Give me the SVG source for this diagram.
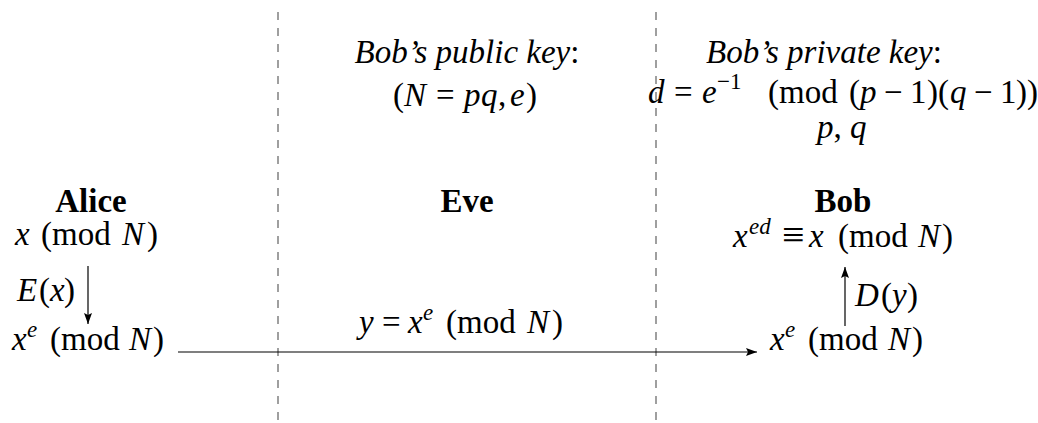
<svg xmlns="http://www.w3.org/2000/svg" width="1038" height="423" viewBox="0 0 1038 423">
<style>
text{font-family:"Liberation Serif","Times New Roman",serif;font-size:33px;fill:#000}
.i{font-style:italic}
.b{font-weight:bold}
.s{font-size:23px}
.eq{font-size:40px}
.div{stroke:#808080;stroke-width:1.5;stroke-dasharray:8 8;fill:none}
.arr{stroke:#000;stroke-width:1.2;fill:none}
</style>
<defs>
<marker id="ah" markerUnits="userSpaceOnUse" markerWidth="12" markerHeight="10" refX="11" refY="4" orient="auto">
<path d="M0,0 L11,4 L0,8 L2,4 Z" fill="#000"/>
</marker>
</defs>
<g id="dividers">
<line class="div" x1="278" y1="12" x2="278" y2="420"/>
<line class="div" x1="656" y1="12" x2="656" y2="420"/>
</g>
<g id="connectors">
<line class="arr" x1="88" y1="266" x2="88" y2="324" marker-end="url(#ah)"/>
<line class="arr" x1="845" y1="326" x2="845" y2="267" marker-end="url(#ah)"/>
<line class="arr" x1="178" y1="352" x2="757" y2="352" marker-end="url(#ah)"/>
</g>
<g id="alice">
<text class="b" x="91" y="212" text-anchor="middle">Alice</text>
<text y="245"><tspan class="i" x="15">x</tspan><tspan x="41">(mod</tspan><tspan class="i" x="122">N</tspan><tspan x="147">)</tspan></text>
<text y="301"><tspan class="i" x="17">E</tspan><tspan x="39">(</tspan><tspan class="i" x="50">x</tspan><tspan x="64">)</tspan></text>
<text y="350"><tspan class="i" x="12">x</tspan><tspan class="i s" x="27" y="337">e</tspan><tspan x="50" y="350">(mod</tspan><tspan class="i" x="129">N</tspan><tspan x="153">)</tspan></text>
</g>
<g id="eve">
<text x="467" y="63" text-anchor="middle"><tspan class="i">Bob’s public key</tspan>:</text>
<text y="106"><tspan x="393">(</tspan><tspan class="i" x="404">N</tspan><tspan x="436">=</tspan><tspan class="i" x="464">p</tspan><tspan class="i" x="481">q</tspan><tspan x="498">,</tspan><tspan class="i" x="510">e</tspan><tspan x="526">)</tspan></text>
<text class="b" x="467" y="212" text-anchor="middle">Eve</text>
<text y="333"><tspan class="i" x="359">y</tspan><tspan x="382">=</tspan><tspan class="i" x="408">x</tspan><tspan class="i s" x="423" y="320">e</tspan><tspan x="446" y="333">(mod</tspan><tspan class="i" x="527">N</tspan><tspan x="552">)</tspan></text>
</g>
<g id="bob">
<text x="824" y="63" text-anchor="middle"><tspan class="i">Bob’s private key</tspan>:</text>
<text y="103"><tspan class="i" x="648">d</tspan><tspan x="674">=</tspan><tspan class="i" x="702">e</tspan><tspan class="s" x="717" y="89">−1</tspan><tspan x="768" y="103">(mod</tspan><tspan x="849">(</tspan><tspan class="i" x="860">p</tspan><tspan x="884">−</tspan><tspan x="910">1</tspan><tspan x="927">)(</tspan><tspan class="i" x="950">q</tspan><tspan x="974">−</tspan><tspan x="1000">1</tspan><tspan x="1016">))</tspan></text>
<text x="817" y="138"><tspan class="i">p</tspan>, <tspan class="i">q</tspan></text>
<text class="b" x="843" y="212" text-anchor="middle">Bob</text>
<text y="247"><tspan class="i" x="733">x</tspan><tspan class="i s" x="749" y="234">ed</tspan><tspan class="eq" x="782" y="248">≡</tspan><tspan class="i" x="809" y="247">x</tspan><tspan x="838">(mod</tspan><tspan class="i" x="918">N</tspan><tspan x="942">)</tspan></text>
<text y="306"><tspan class="i" x="855">D</tspan><tspan x="881">(</tspan><tspan class="i" x="892">y</tspan><tspan x="907">)</tspan></text>
<text y="350"><tspan class="i" x="770">x</tspan><tspan class="i s" x="785" y="337">e</tspan><tspan x="808" y="350">(mod</tspan><tspan class="i" x="888">N</tspan><tspan x="912">)</tspan></text>
</g>
</svg>
